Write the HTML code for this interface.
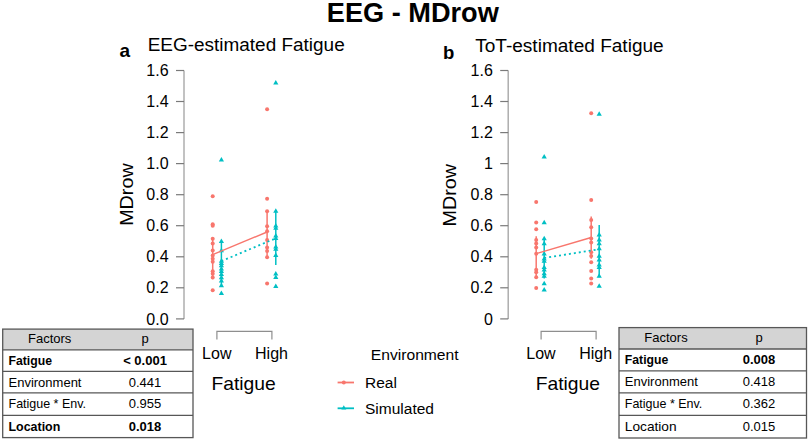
<!DOCTYPE html><html><head><meta charset="utf-8"><style>html,body{margin:0;padding:0;background:#fff;width:809px;height:441px;overflow:hidden}svg{display:block}text{font-family:"Liberation Sans",sans-serif;fill:#000}</style></head><body>
<svg width="809" height="441" viewBox="0 0 809 441">
<rect width="809" height="441" fill="#fff"/>
<text x="326.8" y="22.4" font-size="28" font-weight="bold" textLength="172" lengthAdjust="spacingAndGlyphs">EEG - MDrow</text>
<text x="119.6" y="57.0" font-size="19.0" font-weight="bold">a</text>
<text x="147.7" y="51.2" font-size="17.5" textLength="197.0" lengthAdjust="spacingAndGlyphs">EEG-estimated Fatigue</text>
<path d="M184.0 70.5 V318.9" stroke="#A8A8A8" stroke-width="1.4" fill="none"/>
<path d="M176.0 318.9 H184.0" stroke="#7A7A7A" stroke-width="1.2"/>
<text x="168.6" y="324.5" font-size="16" text-anchor="end">0.0</text>
<path d="M176.0 287.8 H184.0" stroke="#7A7A7A" stroke-width="1.2"/>
<text x="168.6" y="293.4" font-size="16" text-anchor="end">0.2</text>
<path d="M176.0 256.8 H184.0" stroke="#7A7A7A" stroke-width="1.2"/>
<text x="168.6" y="262.4" font-size="16" text-anchor="end">0.4</text>
<path d="M176.0 225.7 H184.0" stroke="#7A7A7A" stroke-width="1.2"/>
<text x="168.6" y="231.3" font-size="16" text-anchor="end">0.6</text>
<path d="M176.0 194.7 H184.0" stroke="#7A7A7A" stroke-width="1.2"/>
<text x="168.6" y="200.3" font-size="16" text-anchor="end">0.8</text>
<path d="M176.0 163.6 H184.0" stroke="#7A7A7A" stroke-width="1.2"/>
<text x="168.6" y="169.2" font-size="16" text-anchor="end">1.0</text>
<path d="M176.0 132.6 H184.0" stroke="#7A7A7A" stroke-width="1.2"/>
<text x="168.6" y="138.2" font-size="16" text-anchor="end">1.2</text>
<path d="M176.0 101.5 H184.0" stroke="#7A7A7A" stroke-width="1.2"/>
<text x="168.6" y="107.1" font-size="16" text-anchor="end">1.4</text>
<path d="M176.0 70.5 H184.0" stroke="#7A7A7A" stroke-width="1.2"/>
<text x="168.6" y="76.1" font-size="16" text-anchor="end">1.6</text>
<text transform="translate(132.6 194.6) rotate(-90)" font-size="19" text-anchor="middle" textLength="62.5" lengthAdjust="spacingAndGlyphs">MDrow</text>
<path d="M216.9 339.6 V331.4 H271.9 V339.6" stroke="#8E8E8E" stroke-width="1.2" fill="none"/>
<text x="216.8" y="358.6" font-size="16" text-anchor="middle">Low</text>
<text x="271.5" y="358.6" font-size="16" text-anchor="middle">High</text>
<text x="243.6" y="389.6" font-size="19" text-anchor="middle" textLength="64.3" lengthAdjust="spacingAndGlyphs">Fatigue</text>
<text x="443.0" y="59.4" font-size="18.5" font-weight="bold">b</text>
<text x="475.2" y="51.6" font-size="17.5" textLength="188.5" lengthAdjust="spacingAndGlyphs">ToT-estimated Fatigue</text>
<path d="M508.2 70.5 V318.9" stroke="#A8A8A8" stroke-width="1.4" fill="none"/>
<path d="M500.2 318.9 H508.2" stroke="#7A7A7A" stroke-width="1.2"/>
<text x="492.8" y="324.5" font-size="16" text-anchor="end">0</text>
<path d="M500.2 287.8 H508.2" stroke="#7A7A7A" stroke-width="1.2"/>
<text x="492.8" y="293.4" font-size="16" text-anchor="end">0.2</text>
<path d="M500.2 256.8 H508.2" stroke="#7A7A7A" stroke-width="1.2"/>
<text x="492.8" y="262.4" font-size="16" text-anchor="end">0.4</text>
<path d="M500.2 225.7 H508.2" stroke="#7A7A7A" stroke-width="1.2"/>
<text x="492.8" y="231.3" font-size="16" text-anchor="end">0.6</text>
<path d="M500.2 194.7 H508.2" stroke="#7A7A7A" stroke-width="1.2"/>
<text x="492.8" y="200.3" font-size="16" text-anchor="end">0.8</text>
<path d="M500.2 163.6 H508.2" stroke="#7A7A7A" stroke-width="1.2"/>
<text x="492.8" y="169.2" font-size="16" text-anchor="end">1</text>
<path d="M500.2 132.6 H508.2" stroke="#7A7A7A" stroke-width="1.2"/>
<text x="492.8" y="138.2" font-size="16" text-anchor="end">1.2</text>
<path d="M500.2 101.5 H508.2" stroke="#7A7A7A" stroke-width="1.2"/>
<text x="492.8" y="107.1" font-size="16" text-anchor="end">1.4</text>
<path d="M500.2 70.5 H508.2" stroke="#7A7A7A" stroke-width="1.2"/>
<text x="492.8" y="76.1" font-size="16" text-anchor="end">1.6</text>
<text transform="translate(456.2 195.2) rotate(-90)" font-size="19" text-anchor="middle" textLength="62.5" lengthAdjust="spacingAndGlyphs">MDrow</text>
<path d="M541.1 339.6 V331.4 H596.1 V339.6" stroke="#8E8E8E" stroke-width="1.2" fill="none"/>
<text x="541.0" y="358.6" font-size="16" text-anchor="middle">Low</text>
<text x="595.7" y="358.6" font-size="16" text-anchor="middle">High</text>
<text x="567.8" y="389.6" font-size="19" text-anchor="middle" textLength="64.3" lengthAdjust="spacingAndGlyphs">Fatigue</text>
<path d="M212.7 237.9 V279.2" stroke="#F8766D" stroke-width="1.5"/>
<circle cx="212.7" cy="196.3" r="2.0" fill="#F8766D"/>
<circle cx="212.7" cy="224.2" r="2.0" fill="#F8766D"/>
<circle cx="212.7" cy="225.8" r="2.0" fill="#F8766D"/>
<circle cx="212.7" cy="238.8" r="2.0" fill="#F8766D"/>
<circle cx="212.7" cy="243.4" r="2.0" fill="#F8766D"/>
<circle cx="212.7" cy="250.6" r="2.0" fill="#F8766D"/>
<circle cx="212.7" cy="255.4" r="2.0" fill="#F8766D"/>
<circle cx="212.7" cy="258.7" r="2.0" fill="#F8766D"/>
<circle cx="212.7" cy="261.8" r="2.0" fill="#F8766D"/>
<circle cx="212.7" cy="271.2" r="2.0" fill="#F8766D"/>
<circle cx="212.7" cy="273.7" r="2.0" fill="#F8766D"/>
<circle cx="212.7" cy="277.6" r="2.0" fill="#F8766D"/>
<circle cx="212.7" cy="290.3" r="2.0" fill="#F8766D"/>
<path d="M221.4 241.3 V285.5" stroke="#00BFC4" stroke-width="1.5"/>
<path d="M221.4 157.0 L224.0 161.5 L218.8 161.5 Z" fill="#00BFC4"/>
<path d="M221.4 238.5 L224.0 243.0 L218.8 243.0 Z" fill="#00BFC4"/>
<path d="M221.4 247.8 L224.0 252.3 L218.8 252.3 Z" fill="#00BFC4"/>
<path d="M221.4 258.2 L224.0 262.7 L218.8 262.7 Z" fill="#00BFC4"/>
<path d="M221.4 260.5 L224.0 265.0 L218.8 265.0 Z" fill="#00BFC4"/>
<path d="M221.4 262.8 L224.0 267.3 L218.8 267.3 Z" fill="#00BFC4"/>
<path d="M221.4 266.1 L224.0 270.6 L218.8 270.6 Z" fill="#00BFC4"/>
<path d="M221.4 268.4 L224.0 272.9 L218.8 272.9 Z" fill="#00BFC4"/>
<path d="M221.4 271.5 L224.0 276.0 L218.8 276.0 Z" fill="#00BFC4"/>
<path d="M221.4 274.8 L224.0 279.3 L218.8 279.3 Z" fill="#00BFC4"/>
<path d="M221.4 278.1 L224.0 282.6 L218.8 282.6 Z" fill="#00BFC4"/>
<path d="M221.4 282.7 L224.0 287.2 L218.8 287.2 Z" fill="#00BFC4"/>
<path d="M221.4 290.6 L224.0 295.1 L218.8 295.1 Z" fill="#00BFC4"/>
<path d="M267.1 210.2 V258.7" stroke="#F8766D" stroke-width="1.5"/>
<circle cx="267.1" cy="109.3" r="2.0" fill="#F8766D"/>
<circle cx="267.1" cy="198.7" r="2.0" fill="#F8766D"/>
<circle cx="267.1" cy="211.2" r="2.0" fill="#F8766D"/>
<circle cx="267.1" cy="226.2" r="2.0" fill="#F8766D"/>
<circle cx="267.1" cy="231.2" r="2.0" fill="#F8766D"/>
<circle cx="267.1" cy="239.9" r="2.0" fill="#F8766D"/>
<circle cx="267.1" cy="247.5" r="2.0" fill="#F8766D"/>
<circle cx="267.1" cy="251.1" r="2.0" fill="#F8766D"/>
<circle cx="267.1" cy="257.3" r="2.0" fill="#F8766D"/>
<circle cx="267.1" cy="283.5" r="2.0" fill="#F8766D"/>
<path d="M275.8 210.2 V264.9" stroke="#00BFC4" stroke-width="1.5"/>
<path d="M275.8 80.1 L278.4 84.6 L273.2 84.6 Z" fill="#00BFC4"/>
<path d="M275.8 208.2 L278.4 212.7 L273.2 212.7 Z" fill="#00BFC4"/>
<path d="M275.8 222.9 L278.4 227.4 L273.2 227.4 Z" fill="#00BFC4"/>
<path d="M275.8 225.3 L278.4 229.8 L273.2 229.8 Z" fill="#00BFC4"/>
<path d="M275.8 233.0 L278.4 237.5 L273.2 237.5 Z" fill="#00BFC4"/>
<path d="M275.8 235.4 L278.4 239.9 L273.2 239.9 Z" fill="#00BFC4"/>
<path d="M275.8 243.9 L278.4 248.4 L273.2 248.4 Z" fill="#00BFC4"/>
<path d="M275.8 246.2 L278.4 250.7 L273.2 250.7 Z" fill="#00BFC4"/>
<path d="M275.8 252.4 L278.4 256.9 L273.2 256.9 Z" fill="#00BFC4"/>
<path d="M275.8 271.1 L278.4 275.6 L273.2 275.6 Z" fill="#00BFC4"/>
<path d="M275.8 274.5 L278.4 279.0 L273.2 279.0 Z" fill="#00BFC4"/>
<path d="M275.8 283.5 L278.4 288.0 L273.2 288.0 Z" fill="#00BFC4"/>
<path d="M212.7 254.6 L267.1 232.0" stroke="#F8766D" stroke-width="1.4"/>
<path d="M221.4 261.1 L275.8 238.3" stroke="#00BFC4" stroke-width="1.8" stroke-dasharray="2 3"/>
<path d="M536.2 236.2 V276.1" stroke="#F8766D" stroke-width="1.5"/>
<circle cx="536.2" cy="202.0" r="2.0" fill="#F8766D"/>
<circle cx="536.2" cy="222.6" r="2.0" fill="#F8766D"/>
<circle cx="536.2" cy="229.3" r="2.0" fill="#F8766D"/>
<circle cx="536.2" cy="239.9" r="2.0" fill="#F8766D"/>
<circle cx="536.2" cy="243.6" r="2.0" fill="#F8766D"/>
<circle cx="536.2" cy="247.5" r="2.0" fill="#F8766D"/>
<circle cx="536.2" cy="253.7" r="2.0" fill="#F8766D"/>
<circle cx="536.2" cy="269.8" r="2.0" fill="#F8766D"/>
<circle cx="536.2" cy="272.3" r="2.0" fill="#F8766D"/>
<circle cx="536.2" cy="277.3" r="2.0" fill="#F8766D"/>
<circle cx="536.2" cy="288.0" r="2.0" fill="#F8766D"/>
<path d="M544.2 238.6 V278.5" stroke="#00BFC4" stroke-width="1.5"/>
<path d="M544.2 153.9 L546.8 158.4 L541.6 158.4 Z" fill="#00BFC4"/>
<path d="M544.2 219.8 L546.8 224.3 L541.6 224.3 Z" fill="#00BFC4"/>
<path d="M544.2 235.8 L546.8 240.3 L541.6 240.3 Z" fill="#00BFC4"/>
<path d="M544.2 240.8 L546.8 245.3 L541.6 245.3 Z" fill="#00BFC4"/>
<path d="M544.2 250.9 L546.8 255.4 L541.6 255.4 Z" fill="#00BFC4"/>
<path d="M544.2 255.9 L546.8 260.4 L541.6 260.4 Z" fill="#00BFC4"/>
<path d="M544.2 258.3 L546.8 262.8 L541.6 262.8 Z" fill="#00BFC4"/>
<path d="M544.2 264.6 L546.8 269.1 L541.6 269.1 Z" fill="#00BFC4"/>
<path d="M544.2 267.0 L546.8 271.5 L541.6 271.5 Z" fill="#00BFC4"/>
<path d="M544.2 270.8 L546.8 275.3 L541.6 275.3 Z" fill="#00BFC4"/>
<path d="M544.2 273.3 L546.8 277.8 L541.6 277.8 Z" fill="#00BFC4"/>
<path d="M544.2 280.7 L546.8 285.2 L541.6 285.2 Z" fill="#00BFC4"/>
<path d="M544.2 286.9 L546.8 291.4 L541.6 291.4 Z" fill="#00BFC4"/>
<path d="M591.2 216.4 V258.7" stroke="#F8766D" stroke-width="1.5"/>
<circle cx="591.2" cy="113.2" r="2.0" fill="#F8766D"/>
<circle cx="591.2" cy="200.0" r="2.0" fill="#F8766D"/>
<circle cx="591.2" cy="219.9" r="2.0" fill="#F8766D"/>
<circle cx="591.2" cy="227.3" r="2.0" fill="#F8766D"/>
<circle cx="591.2" cy="238.6" r="2.0" fill="#F8766D"/>
<circle cx="591.2" cy="242.4" r="2.0" fill="#F8766D"/>
<circle cx="591.2" cy="252.3" r="2.0" fill="#F8766D"/>
<circle cx="591.2" cy="256.0" r="2.0" fill="#F8766D"/>
<circle cx="591.2" cy="262.2" r="2.0" fill="#F8766D"/>
<circle cx="591.2" cy="271.1" r="2.0" fill="#F8766D"/>
<circle cx="591.2" cy="278.5" r="2.0" fill="#F8766D"/>
<circle cx="591.2" cy="283.5" r="2.0" fill="#F8766D"/>
<path d="M599.2 225.0 V277.3" stroke="#00BFC4" stroke-width="1.5"/>
<path d="M599.2 111.2 L601.8 115.7 L596.6 115.7 Z" fill="#00BFC4"/>
<path d="M599.2 232.1 L601.8 236.6 L596.6 236.6 Z" fill="#00BFC4"/>
<path d="M599.2 237.1 L601.8 241.6 L596.6 241.6 Z" fill="#00BFC4"/>
<path d="M599.2 240.8 L601.8 245.3 L596.6 245.3 Z" fill="#00BFC4"/>
<path d="M599.2 245.8 L601.8 250.3 L596.6 250.3 Z" fill="#00BFC4"/>
<path d="M599.2 253.2 L601.8 257.7 L596.6 257.7 Z" fill="#00BFC4"/>
<path d="M599.2 257.1 L601.8 261.6 L596.6 261.6 Z" fill="#00BFC4"/>
<path d="M599.2 262.1 L601.8 266.6 L596.6 266.6 Z" fill="#00BFC4"/>
<path d="M599.2 264.6 L601.8 269.1 L596.6 269.1 Z" fill="#00BFC4"/>
<path d="M599.2 273.3 L601.8 277.8 L596.6 277.8 Z" fill="#00BFC4"/>
<path d="M599.2 283.2 L601.8 287.7 L596.6 287.7 Z" fill="#00BFC4"/>
<path d="M536.2 253.7 L591.2 237.5" stroke="#F8766D" stroke-width="1.4"/>
<path d="M544.2 257.9 L599.2 249.3" stroke="#00BFC4" stroke-width="1.8" stroke-dasharray="2 3"/>
<text x="370.8" y="360.3" font-size="15.5" textLength="87.8" lengthAdjust="spacingAndGlyphs">Environment</text>
<path d="M337.6 382.5 H354" stroke="#F8766D" stroke-width="1.8"/><circle cx="343.8" cy="382.5" r="2" fill="#F8766D"/>
<text x="365" y="388" font-size="15.5">Real</text>
<path d="M337.6 408.3 H354" stroke="#00BFC4" stroke-width="1.8"/><path d="M343.8 405.3 L346.3 409.6 L341.3 409.6Z" fill="#00BFC4"/>
<text x="365" y="413.8" font-size="15.5">Simulated</text>
<rect x="2.7" y="329.1" width="190.3" height="20.8" fill="#D4D4D4"/>
<rect x="2.7" y="329.1" width="190.3" height="108.5" fill="none" stroke="#575757" stroke-width="1.3"/>
<path d="M2.7 349.9 H193.0" stroke="#575757" stroke-width="1.3"/>
<path d="M2.7 371.4 H193.0" stroke="#575757" stroke-width="1.3"/>
<path d="M2.7 392.8 H193.0" stroke="#575757" stroke-width="1.3"/>
<path d="M2.7 415.3 H193.0" stroke="#575757" stroke-width="1.3"/>
<text x="49.7" y="343.4" font-size="13" text-anchor="middle" fill="#222">Factors</text>
<text x="145.0" y="343.4" font-size="13" text-anchor="middle" fill="#222">p</text>
<text x="8.5" y="365.3" font-size="13" font-weight="bold" textLength="43.5" lengthAdjust="spacingAndGlyphs" fill="#1a1a1a">Fatigue</text>
<text x="145.0" y="365.3" font-size="13" text-anchor="middle" font-weight="bold" fill="#1a1a1a">&lt; 0.001</text>
<text x="8.5" y="386.8" font-size="13" fill="#1a1a1a">Environment</text>
<text x="145.0" y="386.8" font-size="13" text-anchor="middle" fill="#1a1a1a">0.441</text>
<text x="8.5" y="408.2" font-size="13" textLength="77.5" lengthAdjust="spacingAndGlyphs" fill="#1a1a1a">Fatigue * Env.</text>
<text x="145.0" y="408.2" font-size="13" text-anchor="middle" fill="#1a1a1a">0.955</text>
<text x="8.5" y="430.7" font-size="13" font-weight="bold" textLength="51.8" lengthAdjust="spacingAndGlyphs" fill="#1a1a1a">Location</text>
<text x="145.0" y="430.7" font-size="13" text-anchor="middle" font-weight="bold" fill="#1a1a1a">0.018</text>
<rect x="619.0" y="327.6" width="187.5" height="21.4" fill="#D4D4D4"/>
<rect x="619.0" y="327.6" width="187.5" height="110.4" fill="none" stroke="#575757" stroke-width="1.3"/>
<path d="M619.0 349.0 H806.5" stroke="#575757" stroke-width="1.3"/>
<path d="M619.0 370.8 H806.5" stroke="#575757" stroke-width="1.3"/>
<path d="M619.0 392.8 H806.5" stroke="#575757" stroke-width="1.3"/>
<path d="M619.0 415.3 H806.5" stroke="#575757" stroke-width="1.3"/>
<text x="666.0" y="341.9" font-size="13" text-anchor="middle" fill="#222">Factors</text>
<text x="759.0" y="341.9" font-size="13" text-anchor="middle" fill="#222">p</text>
<text x="624.8" y="364.4" font-size="13" font-weight="bold" textLength="43.5" lengthAdjust="spacingAndGlyphs" fill="#1a1a1a">Fatigue</text>
<text x="759.0" y="364.4" font-size="13" text-anchor="middle" font-weight="bold" fill="#1a1a1a">0.008</text>
<text x="624.8" y="386.2" font-size="13" fill="#1a1a1a">Environment</text>
<text x="759.0" y="386.2" font-size="13" text-anchor="middle" fill="#1a1a1a">0.418</text>
<text x="624.8" y="408.2" font-size="13" textLength="77.5" lengthAdjust="spacingAndGlyphs" fill="#1a1a1a">Fatigue * Env.</text>
<text x="759.0" y="408.2" font-size="13" text-anchor="middle" fill="#1a1a1a">0.362</text>
<text x="624.8" y="430.7" font-size="13" textLength="51.8" lengthAdjust="spacingAndGlyphs" fill="#1a1a1a">Location</text>
<text x="759.0" y="430.7" font-size="13" text-anchor="middle" fill="#1a1a1a">0.015</text>
</svg></body></html>
